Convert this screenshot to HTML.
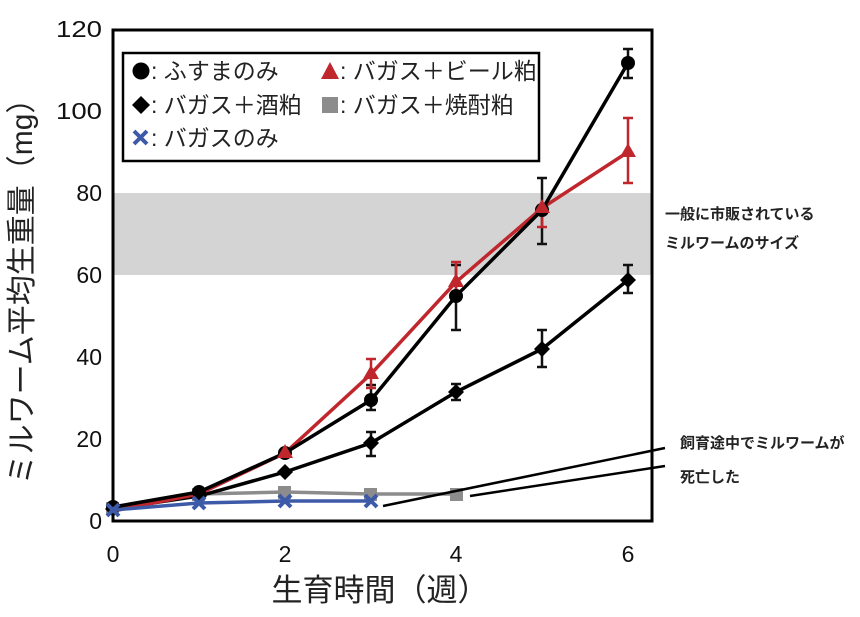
<!DOCTYPE html>
<html><head><meta charset="utf-8"><style>
html,body{margin:0;padding:0;background:#fff;}
svg text{font-family:"Liberation Sans","Noto Sans CJK JP",sans-serif;}
</style></head><body>
<svg width="860" height="612" viewBox="0 0 860 612" xmlns="http://www.w3.org/2000/svg">
<rect x="113" y="193" width="539" height="82" fill="#d4d4d4"/>
<rect x="113" y="30" width="539" height="491" fill="none" stroke="#000" stroke-width="3"/>
<g font-size="23" text-anchor="end" fill="#111">
<text x="102" y="37" textLength="46" lengthAdjust="spacingAndGlyphs">120</text><text x="102" y="119" textLength="46" lengthAdjust="spacingAndGlyphs">100</text><text x="102" y="201">80</text>
<text x="102" y="283">60</text><text x="102" y="365">40</text><text x="102" y="447">20</text><text x="102" y="529">0</text>
</g>
<g font-size="23" text-anchor="middle" fill="#111">
<text x="113" y="562">0</text><text x="285" y="562">2</text><text x="456" y="562">4</text><text x="628" y="562">6</text>
</g>
<text x="380" y="601" font-size="31" text-anchor="middle" fill="#222">生育時間（週）</text>
<text transform="translate(32,284) rotate(-90)" font-size="30" text-anchor="middle" fill="#222">ミルワーム平均生重量（mg）</text>
<!-- error bars -->
<g stroke="#111" stroke-width="2.5" fill="none">
<path d="M371 385V410M366 385H376M366 410H376"/>
<path d="M456 265V330M451 265H461M451 330H461"/>
<path d="M542 178V244M537 178H547M537 244H547"/>
<path d="M628 49V78M623 49H633M623 78H633"/>
<path d="M371 432V456M366 432H376M366 456H376"/>
<path d="M456 384V400M451 384H461M451 400H461"/>
<path d="M542 330V367M537 330H547M537 367H547"/>
<path d="M628 265V293M623 265H633M623 293H633"/>
</g>
<g stroke="#c0272d" stroke-width="2.5" fill="none">
<path d="M371 359V388M366 359H376M366 388H376"/>
<path d="M456 262V299M451 262H461M451 299H461"/>
<path d="M542 206V227M537 206H547M537 227H547"/>
<path d="M628 118V183M623 118H633M623 183H633"/>
</g>
<!-- series -->
<polyline points="113,509 199,494 285,492 371,494 456,494" fill="none" stroke="#8c8c8c" stroke-width="3.5"/>
<g fill="#8c8c8c"><rect x="106" y="502" width="13" height="13"/><rect x="192" y="488" width="13" height="13"/><rect x="278" y="486" width="13" height="13"/><rect x="364" y="488" width="13" height="13"/><rect x="450" y="488" width="13" height="13"/></g>
<polyline points="113,509 199,496 285,472 371,443 456,392 542,349 628,280" fill="none" stroke="#000" stroke-width="3.5"/>
<g fill="#000"><path d="M113 501l8 8-8 8-8-8z"/><path d="M199 488l8 8-8 8-8-8z"/><path d="M285 464l8 8-8 8-8-8z"/><path d="M371 435l8 8-8 8-8-8z"/><path d="M456 384l8 8-8 8-8-8z"/><path d="M542 341l8 8-8 8-8-8z"/><path d="M628 272l8 8-8 8-8-8z"/></g>
<polyline points="113,511 199,494 285,453 371,374 456,282 542,208 628,152" fill="none" stroke="#c0272d" stroke-width="3.5"/>
<polyline points="113,507 199,492 285,453 371,400 456,296 542,210 628,63" fill="none" stroke="#000" stroke-width="3.5"/>
<g fill="#000"><circle cx="113" cy="507" r="7"/><circle cx="199" cy="492" r="7"/><circle cx="285" cy="453" r="7"/><circle cx="371" cy="400" r="7"/><circle cx="456" cy="296" r="7"/><circle cx="542" cy="210" r="7"/><circle cx="628" cy="63" r="7"/></g>
<g fill="#c0272d"><path d="M285 444l8 14h-16z"/><path d="M371 365l8 14h-16z"/><path d="M456 273l8 14h-16z"/><path d="M542 199l8 14h-16z"/><path d="M628 143l8 14h-16z"/></g>
<polyline points="113,510 199,503 285,501 371,501" fill="none" stroke="#3d5aa8" stroke-width="3.5"/>
<g stroke="#3d5aa8" stroke-width="4"><path d="M107 504l12 12M119 504l-12 12"/><path d="M193 497l12 12M205 497l-12 12"/><path d="M279 495l12 12M291 495l-12 12"/><path d="M365 495l12 12M377 495l-12 12"/></g>
<!-- legend -->
<rect x="123" y="53" width="416" height="108" fill="#fff" stroke="#000" stroke-width="2.5"/>
<g font-size="23" fill="#222">
<circle cx="141" cy="71" r="8.5" fill="#000"/><text x="151" y="79">: ふすまのみ</text>
<path d="M330 62l9 17h-18z" fill="#c0272d"/><text x="340" y="79">: バガス＋ビール粕</text>
<path d="M141 96l9 9-9 9-9-9z" fill="#000"/><text x="151" y="113">: バガス＋酒粕</text>
<rect x="322" y="97" width="16" height="16" fill="#8c8c8c"/><text x="340" y="113">: バガス＋焼酎粕</text>
<path d="M134 131l13 13M147 131l-13 13" stroke="#3d5aa8" stroke-width="4"/><text x="151" y="146">: バガスのみ</text>
</g>
<!-- annotations -->
<g font-size="15" font-weight="bold" fill="#222">
<text x="665" y="219">一般に市販されている</text>
<text x="665" y="248">ミルワームのサイズ</text>
<text x="680" y="448">飼育途中でミルワームが</text>
<text x="680" y="482">死亡した</text>
</g>
<g stroke="#000" stroke-width="2.5"><path d="M383 506L665 448"/><path d="M470 496L665 466"/></g>
</svg>
</body></html>
